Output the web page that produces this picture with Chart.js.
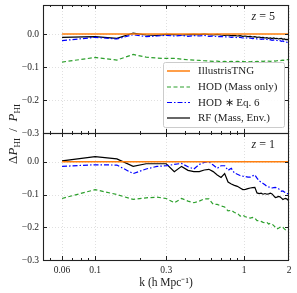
<!DOCTYPE html>
<html><head><meta charset="utf-8">
<script src="https://cdn.jsdelivr.net/npm/chart.js@4/dist/chart.umd.min.js"></script>
<style>
html,body{margin:0;padding:0;background:#fff;}
#wrap{position:relative;width:297px;height:293px;}
canvas{position:absolute;left:0;top:0;}
</style></head><body>
<div id="wrap"><canvas id="c2" width="297" height="293"></canvas><canvas id="c1" width="297" height="293"></canvas></div>
<script>
// k bins (h/Mpc)
const k = [0.06,0.10,0.14,0.18,0.22,0.26,0.30,0.34,0.38,0.42,0.46,0.50,0.54,0.58,0.62,0.66,0.70,0.74,0.78,0.82,0.86,0.90,0.94,0.98,1.02,1.06,1.10,1.14,1.18,1.22,1.26,1.30,1.34,1.38,1.42,1.46,1.50,1.54,1.58,1.62,1.66,1.70,1.74,1.78,1.82,1.86,1.90,1.94,2.00];
const kTNG = [0.06, 2.0];
const seriesNames = ['IllustrisTNG', 'HOD (Mass only)', 'HOD \u2217 Eq. 6', 'RF (Mass, Env.)'];
const xTickLabels = [0.06, 0.1, 0.3, 1, 2];
const xMinorTicks = [0.05,0.07,0.08,0.09,0.2,0.4,0.5,0.6,0.7,0.8,0.9];
const yTickLabels = [-0.3, -0.2, -0.1, 0.0];

// z = 5 panel
const tngZ5 = [0, 0];
const hodZ5 = [-0.085,-0.071,-0.079,-0.062,-0.070,-0.073,-0.074,-0.074,-0.076,-0.078,-0.079,-0.080,-0.081,-0.082,-0.083,-0.082,-0.084,-0.083,-0.084,-0.083,-0.084,-0.083,-0.084,-0.083,-0.084,-0.083,-0.084,-0.083,-0.084,-0.083,-0.084,-0.082,-0.083,-0.082,-0.083,-0.082,-0.083,-0.082,-0.081,-0.082,-0.081,-0.080,-0.081,-0.080,-0.079,-0.080,-0.079,-0.078,-0.077];
const eq6Z5 = [-0.020,-0.010,-0.015,-0.002,-0.008,-0.006,-0.004,-0.006,-0.004,-0.007,-0.005,-0.006,-0.004,-0.007,-0.006,-0.008,-0.007,-0.009,-0.008,-0.010,-0.009,-0.011,-0.010,-0.012,-0.011,-0.013,-0.012,-0.014,-0.013,-0.015,-0.014,-0.016,-0.015,-0.017,-0.016,-0.018,-0.017,-0.019,-0.018,-0.020,-0.019,-0.021,-0.020,-0.022,-0.021,-0.023,-0.024,-0.025,-0.028];
const rfZ5 = [-0.010,-0.008,-0.013,0.003,-0.003,-0.004,-0.001,-0.002,-0.003,-0.002,-0.001,-0.002,0.000,-0.002,-0.003,-0.001,-0.003,-0.004,-0.003,-0.005,-0.004,-0.006,-0.005,-0.007,-0.006,-0.008,-0.007,-0.009,-0.008,-0.010,-0.009,-0.011,-0.010,-0.012,-0.011,-0.013,-0.012,-0.014,-0.012,-0.014,-0.013,-0.015,-0.014,-0.013,-0.016,-0.015,-0.017,-0.016,-0.018];

// z = 1 panel
const tngZ1 = [0, 0];
const hodZ1 = [-0.112,-0.085,-0.100,-0.115,-0.110,-0.108,-0.112,-0.125,-0.112,-0.120,-0.125,-0.120,-0.113,-0.113,-0.130,-0.130,-0.135,-0.138,-0.150,-0.148,-0.155,-0.157,-0.166,-0.163,-0.168,-0.170,-0.172,-0.170,-0.172,-0.180,-0.180,-0.182,-0.185,-0.186,-0.185,-0.190,-0.188,-0.190,-0.195,-0.200,-0.205,-0.203,-0.200,-0.198,-0.200,-0.205,-0.208,-0.210,-0.213];
const eq6Z1 = [-0.014,-0.009,-0.010,-0.036,-0.022,-0.014,-0.012,-0.008,-0.005,-0.015,-0.022,-0.008,-0.002,0.000,-0.010,-0.020,-0.012,-0.012,-0.026,-0.020,-0.034,-0.038,-0.042,-0.044,-0.045,-0.047,-0.047,-0.043,-0.040,-0.050,-0.058,-0.062,-0.066,-0.070,-0.075,-0.077,-0.078,-0.080,-0.079,-0.078,-0.080,-0.082,-0.086,-0.090,-0.089,-0.092,-0.095,-0.097,-0.098];
const rfZ1 = [0.003,0.016,0.009,-0.014,-0.006,-0.006,-0.006,-0.030,-0.014,-0.026,-0.030,-0.030,-0.025,-0.023,-0.030,-0.040,-0.048,-0.036,-0.062,-0.068,-0.072,-0.075,-0.080,-0.085,-0.084,-0.082,-0.080,-0.079,-0.078,-0.095,-0.097,-0.096,-0.099,-0.097,-0.099,-0.098,-0.096,-0.098,-0.104,-0.109,-0.108,-0.106,-0.107,-0.111,-0.115,-0.113,-0.112,-0.114,-0.120];

const COLORS = ['#ff7f0e', '#2ca02c', '#0000ff', '#000000'];
const DASHES = [[], [4, 2.5], [5, 2, 1.5, 2], []];
const WIDTHS = [1.5, 1.2, 1.2, 1.2];
const SERIF = '"Liberation Serif", "Times New Roman", serif';
const XMIN = 0.0447, XMAX = 2, YMIN = -0.3, YMAX = 0.088;

function pts(xs, ys) { return xs.map((x, i) => ({x: x, y: ys[i]})); }
function makeDatasets(tng, hod, eq6, rf) {
  const arr = [pts(kTNG, tng), pts(k, hod), pts(k, eq6), pts(k, rf)];
  return arr.map((d, i) => ({
    label: seriesNames[i], data: d, borderColor: COLORS[i], borderWidth: WIDTHS[i],
    borderDash: DASHES[i], pointRadius: 0, fill: false, tension: 0
  }));
}

function framePlugin(opts) {
  return {
    id: 'frame',
    beforeDatasetsDraw(chart) {
      const ctx = chart.ctx, a = chart.chartArea, xs = chart.scales.x, ys = chart.scales.y;
      ctx.save();
      ctx.strokeStyle = '#d8d8d8'; ctx.lineWidth = 0.8; ctx.setLineDash([1, 2]);
      xTickLabels.forEach(v => { const px = Math.round(xs.getPixelForValue(v)) + 0.5;
        ctx.beginPath(); ctx.moveTo(px, a.top); ctx.lineTo(px, a.bottom); ctx.stroke(); });
      yTickLabels.forEach(v => { const py = Math.round(ys.getPixelForValue(v)) + 0.5;
        ctx.beginPath(); ctx.moveTo(a.left, py); ctx.lineTo(a.right, py); ctx.stroke(); });
      ctx.restore();
    },
    afterDraw(chart) {
      const ctx = chart.ctx, a = chart.chartArea, xs = chart.scales.x, ys = chart.scales.y;
      ctx.save();
      ctx.beginPath(); ctx.rect(a.left, a.top, a.right - a.left, a.bottom - a.top); ctx.clip();
      ctx.strokeStyle = '#222'; ctx.lineWidth = 1; ctx.setLineDash([]);
      const tick = (x1, y1, x2, y2) => { ctx.beginPath(); ctx.moveTo(x1, y1); ctx.lineTo(x2, y2); ctx.stroke(); };
      xTickLabels.forEach(v => { const px = Math.round(xs.getPixelForValue(v)) + 0.5;
        tick(px, a.bottom, px, a.bottom - 4); tick(px, a.top, px, a.top + 4); });
      xMinorTicks.forEach(v => { const px = Math.round(xs.getPixelForValue(v)) + 0.5;
        tick(px, a.bottom, px, a.bottom - 2); tick(px, a.top, px, a.top + 2); });
      yTickLabels.forEach(v => { const py = Math.round(ys.getPixelForValue(v)) + 0.5;
        tick(a.left, py, a.left + 4, py); tick(a.right, py, a.right - 4, py); });
      ctx.restore();
      ctx.save();
      ctx.strokeStyle = '#222'; ctx.lineWidth = 1.1;
      ctx.strokeRect(a.left + 0.5, a.top + 0.5, a.right - a.left - 1, a.bottom - a.top);
      // redshift label
      ctx.fillStyle = '#222'; ctx.textBaseline = 'middle';
      ctx.font = '12px ' + SERIF;
      const rest = ' = ' + opts.z;
      const wRest = ctx.measureText(rest).width;
      ctx.font = 'italic 12px ' + SERIF;
      const wz = ctx.measureText('z').width;
      const xr = a.right - 14, yz = a.top + 12;
      ctx.fillText('z', xr - wRest - wz, yz);
      ctx.font = '12px ' + SERIF;
      ctx.fillText(rest, xr - wRest, yz);
      ctx.restore();
      if (opts.legend) drawLegend(ctx);
      if (opts.ylabel) drawYLabel(ctx);
    }
  };
}

function drawLegend(ctx) {
  ctx.save();
  const x = 163.5, y = 62.5, w = 121, h = 65;
  ctx.fillStyle = 'rgba(255,255,255,0.85)'; ctx.strokeStyle = '#cccccc'; ctx.lineWidth = 1;
  ctx.beginPath(); ctx.roundRect(x, y, w, h, 2); ctx.fill(); ctx.stroke();
  const rows = [71, 87, 102.5, 118];
  ctx.font = '11px ' + SERIF; ctx.textBaseline = 'middle'; ctx.fillStyle = '#222';
  seriesNames.forEach((n, i) => {
    ctx.strokeStyle = COLORS[i]; ctx.lineWidth = WIDTHS[i]; ctx.setLineDash(DASHES[i]);
    ctx.beginPath(); ctx.moveTo(167, rows[i]); ctx.lineTo(190, rows[i]); ctx.stroke();
    ctx.setLineDash([]);
    ctx.fillText(n, 198, rows[i] + 0.5);
  });
  ctx.restore();
}

function drawYLabel(ctx) {
  ctx.save();
  ctx.translate(13, 134); ctx.rotate(-Math.PI / 2);
  ctx.fillStyle = '#222'; ctx.textBaseline = 'alphabetic';
  const parts = [
    {t: '\u0394', f: '13px ' + SERIF, dy: 0},
    {t: 'P', f: 'italic 13px ' + SERIF, dy: 0},
    {t: 'HI', f: '9px ' + SERIF, dy: 2.5},
    {t: '  /  ', f: '13px ' + SERIF, dy: 0},
    {t: 'P', f: 'italic 13px ' + SERIF, dy: 0},
    {t: 'HI', f: '9px ' + SERIF, dy: 2.5}
  ];
  let total = 0;
  parts.forEach(p => { ctx.font = p.f; p.w = ctx.measureText(p.t).width; total += p.w; });
  let cx = -total / 2;
  parts.forEach(p => { ctx.font = p.f; ctx.fillText(p.t, cx, 4 + p.dy); cx += p.w; });
  ctx.restore();
}

function yScale() {
  return {
    type: 'linear', min: YMIN, max: YMAX,
    afterBuildTicks: s => { s.ticks = yTickLabels.map(v => ({value: v})); },
    afterFit: s => { s.width = 43; s.paddingTop = 0; s.paddingBottom = 0; },
    grid: {display: false, drawTicks: false}, border: {display: false},
    ticks: {
      font: {family: SERIF, size: 9.5}, color: '#222', padding: 4, autoSkip: false,
      callback: v => (Math.abs(v) < 1e-9 ? '0.0' : '\u2212' + Math.abs(v).toFixed(1))
    }
  };
}

function xScale(showLabels) {
  return {
    type: 'logarithmic', min: XMIN, max: XMAX,
    afterBuildTicks: s => { s.ticks = xTickLabels.map(v => ({value: v})); },
    afterFit: s => { s.height = showLabels ? 33 : 0; s.paddingLeft = 0; s.paddingRight = 0; },
    grid: {display: false, drawTicks: false}, border: {display: false},
    ticks: {
      display: showLabels, autoSkip: false, maxRotation: 0, minRotation: 0,
      font: {family: SERIF, size: 9.5}, color: '#222', padding: 5,
      callback: v => String(v)
    },
    title: {
      display: showLabels, text: 'k (h Mpc\u207B\u00B9)', color: '#222',
      font: {family: SERIF, size: 11.5}, padding: {top: 2, bottom: 3}
    }
  };
}

const common = {
  responsive: false, devicePixelRatio: 1, animation: false,
  plugins: {legend: {display: false}, tooltip: {enabled: false}},
  elements: {line: {borderCapStyle: 'butt'}}
};

new Chart(document.getElementById('c1'), {
  type: 'line',
  data: {datasets: makeDatasets(tngZ5, hodZ5, eq6Z5, rfZ5)},
  options: Object.assign({}, common, {
    layout: {padding: {left: 0, right: 8, top: 5, bottom: 160}},
    scales: {x: xScale(false), y: yScale()}
  }),
  plugins: [framePlugin({z: 5, legend: true, ylabel: false})]
});

new Chart(document.getElementById('c2'), {
  type: 'line',
  data: {datasets: makeDatasets(tngZ1, hodZ1, eq6Z1, rfZ1)},
  options: Object.assign({}, common, {
    layout: {padding: {left: 0, right: 8, top: 133, bottom: 0}},
    scales: {x: xScale(true), y: yScale()}
  }),
  plugins: [framePlugin({z: 1, legend: false, ylabel: true})]
});
</script>
</body></html>
